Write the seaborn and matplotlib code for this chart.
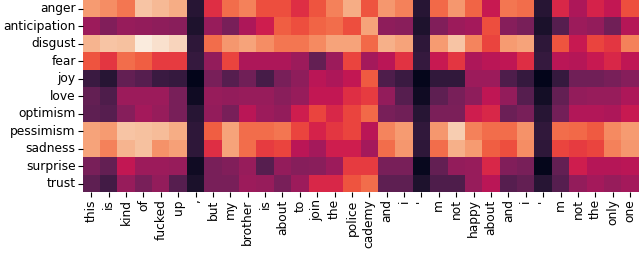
import numpy as np
import pandas as pd
import matplotlib
matplotlib.use('Agg')
import matplotlib.pyplot as plt
import seaborn as sns


#Emotion labels (rows) and tokens (columns)
emotions = ['anger', 'anticipation', 'disgust', 'fear', 'joy', 'love',
            'optimism', 'pessimism', 'sadness', 'surprise', 'trust']
tokens = ['this', 'is', 'kind', 'of', 'fucked', 'up', ',', 'but', 'my', 'brother',
          'is', 'about', 'to', 'join', 'the', 'police', 'cademy', 'and', 'i', "'",
          'm', 'not', 'happy', 'about', 'and', 'i', "'", 'm', 'not', 'the', 'only', 'one']

#Attention weights, one list per emotion
anger        = [0.78, 0.75, 0.70, 0.88, 0.85, 0.82, 0.10, 0.55, 0.68, 0.72, 0.62, 0.62, 0.55, 0.63, 0.72, 0.82,
                0.63, 0.77, 0.72, 0.10, 0.67, 0.77, 0.66, 0.48, 0.70, 0.68, 0.10, 0.53, 0.42, 0.52, 0.47, 0.62]
anticipation = [0.38, 0.32, 0.37, 0.36, 0.35, 0.34, 0.08, 0.37, 0.30, 0.42, 0.50, 0.65, 0.62, 0.66, 0.68, 0.62,
                0.80, 0.35, 0.34, 0.08, 0.32, 0.38, 0.40, 0.62, 0.33, 0.30, 0.07, 0.22, 0.38, 0.36, 0.28, 0.44]
disgust      = [0.84, 0.88, 0.87, 0.98, 0.95, 0.92, 0.12, 0.68, 0.77, 0.80, 0.75, 0.70, 0.70, 0.74, 0.80, 0.80,
                0.67, 0.83, 0.80, 0.12, 0.78, 0.88, 0.73, 0.60, 0.78, 0.80, 0.12, 0.63, 0.48, 0.60, 0.57, 0.72]
fear         = [0.63, 0.57, 0.68, 0.65, 0.58, 0.58, 0.14, 0.36, 0.60, 0.42, 0.42, 0.42, 0.38, 0.25, 0.38, 0.60,
                0.40, 0.45, 0.56, 0.14, 0.48, 0.57, 0.42, 0.45, 0.46, 0.55, 0.14, 0.45, 0.44, 0.48, 0.53, 0.46]
joy          = [0.15, 0.10, 0.25, 0.22, 0.15, 0.14, 0.00, 0.30, 0.22, 0.28, 0.18, 0.30, 0.35, 0.45, 0.42, 0.47,
                0.64, 0.20, 0.15, 0.01, 0.13, 0.13, 0.38, 0.38, 0.20, 0.14, 0.00, 0.14, 0.28, 0.28, 0.30, 0.33]
love         = [0.25, 0.20, 0.38, 0.38, 0.38, 0.30, 0.04, 0.37, 0.36, 0.37, 0.37, 0.34, 0.37, 0.47, 0.47, 0.55,
                0.58, 0.36, 0.22, 0.04, 0.24, 0.30, 0.35, 0.46, 0.36, 0.22, 0.05, 0.25, 0.36, 0.37, 0.37, 0.42]
optimism     = [0.24, 0.22, 0.33, 0.40, 0.37, 0.30, 0.10, 0.36, 0.30, 0.45, 0.38, 0.36, 0.50, 0.60, 0.53, 0.60,
                0.67, 0.30, 0.28, 0.10, 0.31, 0.31, 0.50, 0.53, 0.27, 0.30, 0.10, 0.29, 0.43, 0.43, 0.42, 0.48]
pessimism    = [0.80, 0.78, 0.88, 0.87, 0.86, 0.82, 0.12, 0.65, 0.80, 0.68, 0.68, 0.70, 0.60, 0.52, 0.57, 0.60,
                0.45, 0.73, 0.78, 0.13, 0.77, 0.90, 0.72, 0.68, 0.68, 0.76, 0.13, 0.68, 0.67, 0.64, 0.74, 0.78]
sadness      = [0.80, 0.72, 0.84, 0.87, 0.76, 0.79, 0.12, 0.55, 0.80, 0.68, 0.58, 0.60, 0.45, 0.40, 0.50, 0.50,
                0.40, 0.68, 0.77, 0.12, 0.68, 0.83, 0.78, 0.65, 0.62, 0.75, 0.12, 0.60, 0.58, 0.60, 0.72, 0.77]
surprise     = [0.30, 0.25, 0.47, 0.38, 0.38, 0.37, 0.04, 0.30, 0.32, 0.37, 0.22, 0.36, 0.33, 0.34, 0.38, 0.58,
                0.58, 0.30, 0.30, 0.02, 0.25, 0.36, 0.37, 0.53, 0.32, 0.30, 0.01, 0.25, 0.50, 0.44, 0.44, 0.45]
trust        = [0.24, 0.17, 0.37, 0.30, 0.36, 0.22, 0.07, 0.30, 0.30, 0.38, 0.37, 0.30, 0.38, 0.53, 0.53, 0.63,
                0.68, 0.24, 0.24, 0.08, 0.20, 0.20, 0.37, 0.45, 0.22, 0.25, 0.10, 0.22, 0.36, 0.40, 0.37, 0.40]

#Build the matrix for the heatmap
weights = np.array([anger, anticipation, disgust, fear, joy, love,
                    optimism, pessimism, sadness, surprise, trust])
df = pd.DataFrame(weights, index=emotions)

#Figure and axis placement
fig = plt.figure(figsize=(6.4, 2.69), dpi=100)
ax = fig.add_axes([0.129, 0.2845, 0.869, 0.7155])

sns.heatmap(df, cmap='rocket', cbar=False, ax=ax,
            xticklabels=tokens, yticklabels=emotions)

#Tick labels
ax.set_xticklabels(tokens, rotation=90, fontsize=8.8)
ax.set_yticklabels(emotions, rotation=0, fontsize=8.8)
ax.tick_params(axis='both', length=3.4, width=0.8, pad=1.5)
ax.set_xlabel('')
ax.set_ylabel('')

fig.savefig('out.png', dpi=100)
